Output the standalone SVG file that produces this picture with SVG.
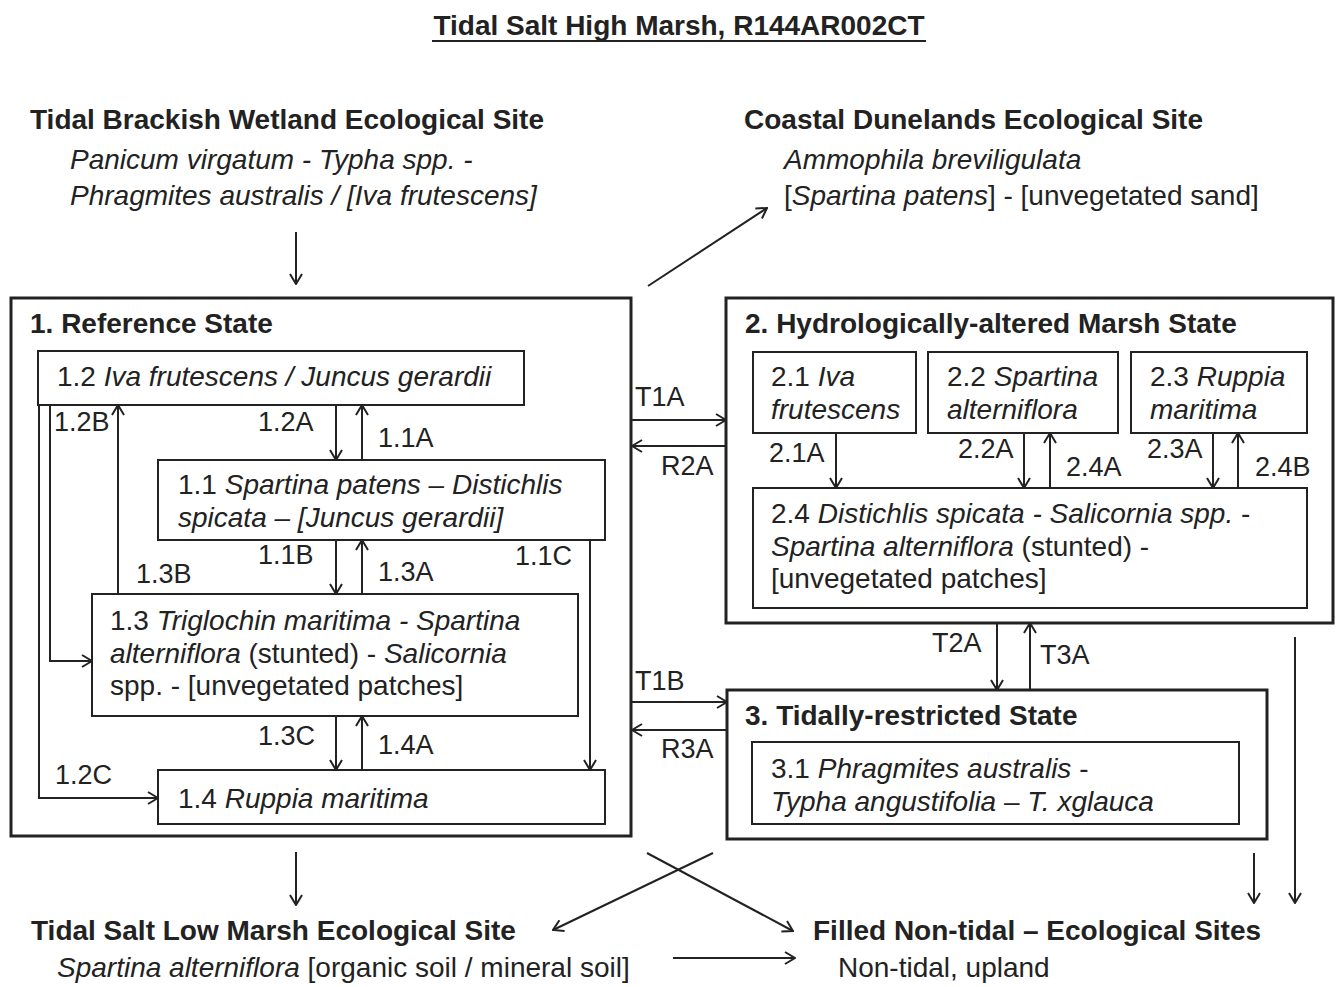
<svg xmlns="http://www.w3.org/2000/svg" width="1340" height="987" viewBox="0 0 1340 987">
<defs>
<style>
text{font-family:"Liberation Sans",Arial,sans-serif;font-size:28px;fill:#222}
.b{font-weight:bold}
.i{font-style:italic}
.l{font-size:27px}
.ob{fill:#fff;stroke:#222;stroke-width:3}
.ib{fill:#fff;stroke:#222;stroke-width:2}
.c{fill:none;stroke:#222;stroke-width:2;marker-end:url(#a)}
</style>
<marker id="a" markerUnits="userSpaceOnUse" viewBox="0 0 12 14" markerWidth="12" markerHeight="14" refX="11" refY="7" orient="auto">
<path d="M1,1 L11,7 L1,13" fill="none" stroke="#222" stroke-width="2"/>
</marker>
</defs>
<rect width="1340" height="987" fill="#fff"/>

<g id="title">
<text class="b" x="679" y="35" text-anchor="middle">Tidal Salt High Marsh, R144AR002CT</text>
<line x1="432" y1="41" x2="926" y2="41" stroke="#222" stroke-width="2"/>
</g>

<g id="brackish">
<text class="b" x="30" y="129">Tidal Brackish Wetland Ecological Site</text>
<text class="i" x="70" y="169">Panicum virgatum - Typha spp. -</text>
<text class="i" x="70" y="205">Phragmites australis / [Iva frutescens]</text>
</g>

<g id="dunelands">
<text class="b" x="744" y="129">Coastal Dunelands Ecological Site</text>
<text class="i" x="784" y="169">Ammophila breviligulata</text>
<text x="784" y="205">[<tspan class="i">Spartina patens</tspan>] - [unvegetated sand]</text>
</g>

<g id="state1">
<rect class="ob" x="11" y="298" width="620" height="538"/>
<text class="b" x="30" y="333">1. Reference State</text>
</g>
<g id="n12">
<rect class="ib" x="38" y="351" width="486" height="54"/>
<text x="57" y="386">1.2 <tspan class="i">Iva frutescens / Juncus gerardii</tspan></text>
</g>
<g id="n11">
<rect class="ib" x="158" y="460" width="447" height="80"/>
<text x="178" y="494">1.1 <tspan class="i">Spartina patens – Distichlis</tspan></text>
<text class="i" x="178" y="527">spicata – [Juncus gerardii]</text>
</g>
<g id="n13">
<rect class="ib" x="92" y="594" width="486" height="122"/>
<text x="110" y="630">1.3 <tspan class="i">Triglochin maritima - Spartina</tspan></text>
<text x="110" y="663"><tspan class="i">alterniflora</tspan> (stunted) - <tspan class="i">Salicornia</tspan></text>
<text x="110" y="695">spp. - [unvegetated patches]</text>
</g>
<g id="n14">
<rect class="ib" x="158" y="770" width="447" height="54"/>
<text x="178" y="808">1.4 <tspan class="i">Ruppia maritima</tspan></text>
</g>

<g id="state2">
<rect class="ob" x="726" y="298" width="607" height="325"/>
<text class="b" x="745" y="333">2. Hydrologically-altered Marsh State</text>
</g>
<g id="n21">
<rect class="ib" x="753" y="352" width="163" height="81"/>
<text x="771" y="386">2.1 <tspan class="i">Iva</tspan></text>
<text class="i" x="771" y="419">frutescens</text>
</g>
<g id="n22">
<rect class="ib" x="928" y="352" width="190" height="81"/>
<text x="947" y="386">2.2 <tspan class="i">Spartina</tspan></text>
<text class="i" x="947" y="419">alterniflora</text>
</g>
<g id="n23">
<rect class="ib" x="1131" y="352" width="176" height="81"/>
<text x="1150" y="386">2.3 <tspan class="i">Ruppia</tspan></text>
<text class="i" x="1150" y="419">maritima</text>
</g>
<g id="n24">
<rect class="ib" x="753" y="488" width="554" height="120"/>
<text x="771" y="523">2.4 <tspan class="i">Distichlis spicata - Salicornia spp.</tspan> -</text>
<text x="771" y="556"><tspan class="i">Spartina alterniflora</tspan> (stunted) -</text>
<text x="771" y="588">[unvegetated patches]</text>
</g>

<g id="state3">
<rect class="ob" x="727" y="690" width="540" height="149"/>
<text class="b" x="745" y="725">3. Tidally-restricted State</text>
</g>
<g id="n31">
<rect class="ib" x="752" y="742" width="487" height="82"/>
<text x="771" y="778">3.1 <tspan class="i">Phragmites australis</tspan> -</text>
<text class="i" x="771" y="811">Typha angustifolia – T. xglauca</text>
</g>

<g id="lowmarsh">
<text class="b" x="31" y="940">Tidal Salt Low Marsh Ecological Site</text>
<text x="57" y="977"><tspan class="i">Spartina alterniflora</tspan> [organic soil / mineral soil]</text>
</g>
<g id="filled">
<text class="b" x="813" y="940">Filled Non-tidal – Ecological Sites</text>
<text x="838" y="977">Non-tidal, upland</text>
</g>

<g id="connectors">
<line class="c" x1="296" y1="232" x2="296" y2="284"/>
<line class="c" x1="648" y1="286" x2="767" y2="208"/>
<line class="c" x1="336" y1="405" x2="336" y2="460"/>
<line class="c" x1="362" y1="460" x2="362" y2="405"/>
<line class="c" x1="336" y1="540" x2="336" y2="594"/>
<line class="c" x1="362" y1="594" x2="362" y2="540"/>
<line class="c" x1="336" y1="716" x2="336" y2="770"/>
<line class="c" x1="362" y1="770" x2="362" y2="716"/>
<line class="c" x1="590" y1="540" x2="590" y2="770"/>
<line class="c" x1="118" y1="594" x2="118" y2="405"/>
<path class="c" d="M50,405 V661 H92"/>
<path class="c" d="M39,405 V798 H158"/>
<line class="c" x1="632" y1="420" x2="726" y2="420"/>
<line class="c" x1="726" y1="446" x2="632" y2="446"/>
<line class="c" x1="632" y1="702" x2="727" y2="702"/>
<line class="c" x1="727" y1="730" x2="632" y2="730"/>
<line class="c" x1="836" y1="433" x2="836" y2="488"/>
<line class="c" x1="1024" y1="433" x2="1024" y2="488"/>
<line class="c" x1="1050" y1="488" x2="1050" y2="433"/>
<line class="c" x1="1213" y1="433" x2="1213" y2="488"/>
<line class="c" x1="1238" y1="488" x2="1238" y2="433"/>
<line class="c" x1="997" y1="623" x2="997" y2="690"/>
<line class="c" x1="1030" y1="690" x2="1030" y2="623"/>
<line class="c" x1="1254" y1="853" x2="1254" y2="903"/>
<line class="c" x1="1295" y1="637" x2="1295" y2="903"/>
<line class="c" x1="296" y1="852" x2="296" y2="905"/>
<line class="c" x1="713" y1="853" x2="553" y2="930"/>
<line class="c" x1="647" y1="853" x2="793" y2="931"/>
<line class="c" x1="673" y1="958" x2="795" y2="958"/>
<text class="l" x="258" y="431">1.2A</text>
<text class="l" x="378" y="447">1.1A</text>
<text class="l" x="54" y="431">1.2B</text>
<text class="l" x="258" y="564">1.1B</text>
<text class="l" x="378" y="581">1.3A</text>
<text class="l" x="136" y="583">1.3B</text>
<text class="l" x="515" y="565">1.1C</text>
<text class="l" x="258" y="745">1.3C</text>
<text class="l" x="378" y="754">1.4A</text>
<text class="l" x="55" y="784">1.2C</text>
<text class="l" x="635" y="406">T1A</text>
<text class="l" x="661" y="475">R2A</text>
<text class="l" x="635" y="690">T1B</text>
<text class="l" x="661" y="758">R3A</text>
<text class="l" x="769" y="462">2.1A</text>
<text class="l" x="958" y="458">2.2A</text>
<text class="l" x="1066" y="476">2.4A</text>
<text class="l" x="1147" y="458">2.3A</text>
<text class="l" x="1255" y="476">2.4B</text>
<text class="l" x="932" y="652">T2A</text>
<text class="l" x="1040" y="664">T3A</text>
</g>
</svg>
